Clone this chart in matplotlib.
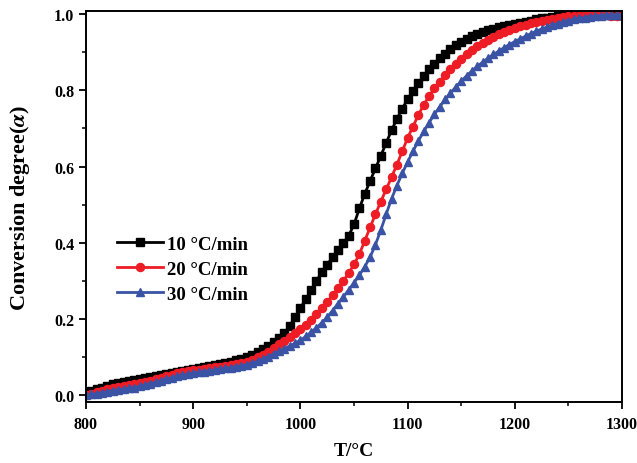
import matplotlib

matplotlib.use("Agg")
import matplotlib.pyplot as plt  # noqa: E402
from matplotlib.ticker import FormatStrFormatter, MultipleLocator  # noqa: E402

# temperature grid, 5 degC steps
T = list(range(800, 1305, 5))

# conversion degree, one value per T
alpha_10 = [
    0.005, 0.010, 0.015, 0.020, 0.024, 0.028, 0.032, 0.035, 0.038, 0.041,
    0.043, 0.046, 0.048, 0.050, 0.053, 0.055, 0.058, 0.060, 0.063, 0.065,
    0.068, 0.070, 0.073, 0.076, 0.079, 0.082, 0.085, 0.088, 0.091, 0.095,
    0.100, 0.106, 0.113, 0.121, 0.130, 0.140, 0.150, 0.162, 0.182, 0.205,
    0.228, 0.252, 0.276, 0.300, 0.322, 0.342, 0.362, 0.380, 0.398, 0.418,
    0.448, 0.490, 0.528, 0.562, 0.595, 0.628, 0.662, 0.695, 0.725, 0.752,
    0.776, 0.798, 0.818, 0.838, 0.855, 0.870, 0.884, 0.896, 0.908, 0.918,
    0.927, 0.935, 0.942, 0.948, 0.953, 0.957, 0.961, 0.965, 0.968, 0.971,
    0.974, 0.977, 0.980, 0.983, 0.986, 0.989, 0.991, 0.993, 0.995, 0.997,
    0.998, 0.999, 1.000, 1.000, 1.000, 1.000, 1.000, 0.999, 0.998, 0.997,
    0.997,
]
alpha_20 = [
    0.000, 0.004, 0.008, 0.012, 0.015, 0.018, 0.021, 0.024, 0.026, 0.028,
    0.031, 0.034, 0.038, 0.042, 0.046, 0.050, 0.054, 0.057, 0.060, 0.063,
    0.065, 0.067, 0.069, 0.071, 0.073, 0.075, 0.077, 0.079, 0.082, 0.085,
    0.088, 0.093, 0.099, 0.106, 0.114, 0.123, 0.133, 0.143, 0.153, 0.163,
    0.173, 0.185, 0.198, 0.212, 0.228, 0.245, 0.262, 0.280, 0.300, 0.320,
    0.343, 0.370, 0.405, 0.440, 0.475, 0.508, 0.540, 0.572, 0.605, 0.640,
    0.675, 0.705, 0.735, 0.762, 0.785, 0.805, 0.823, 0.840, 0.855, 0.869,
    0.882, 0.894, 0.905, 0.915, 0.925, 0.933, 0.941, 0.948, 0.954, 0.959,
    0.964, 0.968, 0.972, 0.976, 0.979, 0.982, 0.985, 0.988, 0.990, 0.992,
    0.994, 0.995, 0.996, 0.997, 0.998, 0.998, 0.998, 0.997, 0.996, 0.995,
    0.994,
]
alpha_30 = [
    0.000, 0.002, 0.004, 0.006, 0.009, 0.012, 0.014, 0.016, 0.018, 0.020,
    0.023, 0.026, 0.030, 0.034, 0.038, 0.042, 0.046, 0.049, 0.052, 0.055,
    0.058, 0.060, 0.062, 0.064, 0.066, 0.068, 0.070, 0.072, 0.074, 0.077,
    0.080, 0.084, 0.089, 0.095, 0.101, 0.108, 0.115, 0.122, 0.129, 0.136,
    0.144, 0.154, 0.165, 0.177, 0.190, 0.205, 0.222, 0.240, 0.258, 0.276,
    0.295, 0.315, 0.337, 0.362, 0.395, 0.433, 0.475, 0.515, 0.550, 0.582,
    0.612, 0.640, 0.667, 0.692, 0.715, 0.737, 0.757, 0.776, 0.793, 0.809,
    0.824, 0.838, 0.851, 0.863, 0.874, 0.884, 0.894, 0.903, 0.912, 0.920,
    0.928, 0.935, 0.942, 0.949, 0.955, 0.961, 0.966, 0.971, 0.975, 0.979,
    0.983, 0.986, 0.989, 0.991, 0.993, 0.995, 0.996, 0.997, 0.998, 0.998,
    0.998,
]

LABELS = ["10 \u00b0C/min", "20 \u00b0C/min", "30 \u00b0C/min"]

plt.rcParams["font.family"] = ["Liberation Serif", "DejaVu Serif"]
plt.rcParams["font.weight"] = "bold"
plt.rcParams["mathtext.fontset"] = "stix"

fig = plt.figure(figsize=(6.37, 4.64), dpi=100)
ax = fig.add_axes([0.135, 0.1315, 0.8415, 0.8425])

ax.plot(T, alpha_10, color="black", lw=2, marker="s", ms=6, label=LABELS[0])
ax.plot(T, alpha_20, color="#ee1c25", lw=2, marker="o", ms=5.8, label=LABELS[1])
ax.plot(T, alpha_30, color="#3a53a4", lw=2, marker="^", ms=6.4, label=LABELS[2])

ax.set_xlim(800, 1300)
ax.set_ylim(-0.018, 1.008)
ax.xaxis.set_major_locator(MultipleLocator(100))
ax.xaxis.set_minor_locator(MultipleLocator(50))
ax.yaxis.set_major_locator(MultipleLocator(0.2))
ax.yaxis.set_minor_locator(MultipleLocator(0.1))
ax.yaxis.set_major_formatter(FormatStrFormatter("%.1f"))
ax.tick_params(which="major", direction="out", length=5, width=1.3, labelsize=11.5)
ax.tick_params(which="minor", direction="out", length=3, width=1.1)
ax.tick_params(axis="x", pad=5)
for sp in ax.spines.values():
    sp.set_linewidth(1.4)

ax.set_xlabel("T/\u00b0C", fontsize=14, fontweight="bold", labelpad=7)
ax.set_ylabel(r"Conversion degree($\alpha$)", fontsize=16, fontweight="bold", labelpad=16)

ax.legend(loc="upper left", bbox_to_anchor=(0.043, 0.445), frameon=False,
          fontsize=13.5, handlelength=2.5, handletextpad=0.2, labelspacing=0.42,
          borderaxespad=0)

fig.savefig("out.png", dpi=100)
